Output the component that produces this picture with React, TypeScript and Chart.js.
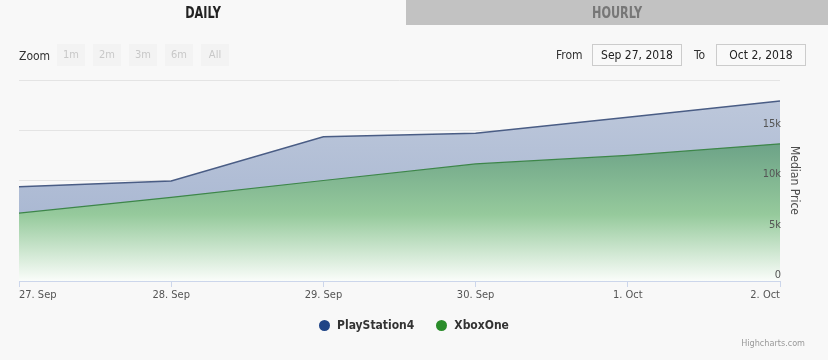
import React, { useEffect, useRef } from "react";
import { Chart, registerables } from "chart.js";

Chart.register(...registerables);

const categories = ["27. Sep", "28. Sep", "29. Sep", "30. Sep", "1. Oct", "2. Oct"];
const ps4Values = [9380, 9950, 14350, 14700, 16300, 17900];
const xboxValues = [6750, 8330, 10000, 11650, 12500, 13650];
const yTickValues = [0, 5000, 10000, 15000, 20000];
const yTickLabels = ["0", "5k", "10k", "15k", ""];
const seriesNames = ["PlayStation4", "XboxOne"];
const zoomButtons = ["1m", "2m", "3m", "6m", "All"];
const tabs = ["DAILY", "HOURLY"];
const fromDate = "Sep 27, 2018";
const toDate = "Oct 2, 2018";

const FONT = '"DejaVu Sans Condensed", "DejaVu Sans", sans-serif';
const NARROW = '"Liberation Sans Narrow", "DejaVu Sans Condensed", sans-serif';

export default function App() {
  const ref = useRef<HTMLCanvasElement | null>(null);

  useEffect(() => {
    const canvas = ref.current;
    if (!canvas) return;
    const ps4Fill = (ctx: any) => {
      const { chart } = ctx;
      const area = chart.chartArea;
      if (!area) return "rgba(170,185,210,1)";
      const g = chart.ctx.createLinearGradient(0, area.top, 0, area.bottom);
      g.addColorStop(0, "rgb(192,202,220)");
      g.addColorStop(1, "rgb(160,176,206)");
      return g;
    };
    const xboxFill = (ctx: any) => {
      const { chart } = ctx;
      const area = chart.chartArea;
      if (!area) return "rgba(120,170,135,1)";
      const g = chart.ctx.createLinearGradient(0, area.top, 0, area.bottom);
      g.addColorStop(0, "rgb(88,144,122)");
      g.addColorStop(0.33, "rgb(110,164,136)");
      g.addColorStop(0.67, "rgb(150,202,156)");
      g.addColorStop(1, "rgb(250,253,250)");
      return g;
    };
    const tickLabel = (v: any) => {
      const i = yTickValues.indexOf(Number(v));
      return i >= 0 ? yTickLabels[i] : "";
    };
    const chart = new Chart(canvas, {
      type: "line",
      data: {
        labels: categories,
        datasets: [
          {
            label: seriesNames[0],
            data: ps4Values,
            borderColor: "#4a5d85",
            borderWidth: 1.5,
            backgroundColor: ps4Fill,
            fill: "origin",
            pointRadius: 0,
            tension: 0,
            order: 2,
          },
          {
            label: seriesNames[1],
            data: xboxValues,
            borderColor: "#3d8649",
            borderWidth: 1.2,
            backgroundColor: xboxFill,
            fill: "origin",
            pointRadius: 0,
            tension: 0,
            order: 1,
          },
        ],
      },
      options: {
        responsive: false,
        animation: false,
        devicePixelRatio: 1,
        layout: { padding: { left: 19, right: 27, top: 80, bottom: 51 } },
        plugins: { legend: { display: false }, tooltip: { enabled: false }, title: { display: false } },
        scales: {
          x: {
            type: "category",
            offset: false,
            grid: { drawOnChartArea: false, drawTicks: true, tickLength: 6, color: "#ccd6eb" },
            border: { color: "#ccd6eb", width: 1 },
            ticks: {
              color: "#555",
              font: { size: 11, family: FONT },
              maxRotation: 0,
              autoSkip: false,
              padding: 2,
              align: "inner",
            },
            afterFit: (s: any) => {
              s.height = 28;
              s.paddingLeft = 0;
              s.paddingRight = 0;
            },
          },
          y: {
            position: "right",
            min: 0,
            max: 20000,
            afterBuildTicks: (s: any) => {
              s.ticks = yTickValues.map((v) => ({ value: v }));
            },
            ticks: {
              mirror: true,
              z: 1,
              padding: 1,
              labelOffset: -6,
              color: "#555",
              font: { size: 11, family: FONT },
              callback: tickLabel,
            },
            grid: { color: "#e4e4e4", drawTicks: false },
            border: { display: false },
            title: {
              display: true,
              text: "Median Price",
              color: "#4d4d4d",
              font: { size: 12, family: FONT },
              padding: { top: 0, bottom: 0 },
            },
            afterFit: (s: any) => {
              s.width = 21;
              s.paddingTop = 0;
              s.paddingBottom = 0;
            },
          },
        },
      },
    });
    return () => chart.destroy();
  }, []);

  const abs = (o: React.CSSProperties): React.CSSProperties => ({ position: "absolute", ...o });

  return (
    <div style={abs({ left: 0, top: 0, width: 828, height: 360, background: "#f8f8f8", overflow: "hidden", fontFamily: FONT })}>
      <canvas ref={ref} width={828} height={360} style={abs({ left: 0, top: 0, width: 828, height: 360 })} />
      <div style={abs({ left: 0, top: 0, width: 406, height: 25, lineHeight: "25px", textAlign: "center", fontFamily: NARROW, fontWeight: 700, fontSize: 16, color: "#222", transform: "scaleX(0.78)" })}>{tabs[0]}</div>
      <div style={abs({ left: 406, top: 0, width: 422, height: 25, background: "#c2c2c2" })} />
      <div style={abs({ left: 406, top: 0, width: 422, height: 25, lineHeight: "25px", textAlign: "center", fontFamily: NARROW, fontWeight: 700, fontSize: 16, color: "#777", transform: "scaleX(0.78)" })}>{tabs[1]}</div>
      <div style={abs({ left: 19, top: 46, height: 20, lineHeight: "20px", fontSize: 12, color: "#333" })}>Zoom</div>
      {zoomButtons.map((b, i) => (
        <div key={b} style={abs({ left: 57 + i * 36, top: 44, width: 28, height: 22, lineHeight: "22px", textAlign: "center", fontSize: 11, color: "#c8c8c8", background: "#f3f3f3" })}>{b}</div>
      ))}
      <div style={abs({ left: 556, top: 44, height: 22, lineHeight: "22px", fontSize: 12, color: "#333" })}>From</div>
      <div style={abs({ left: 592, top: 44, width: 88, height: 20, lineHeight: "20px", textAlign: "center", fontSize: 12, color: "#222", border: "1px solid #cccccc", background: "#f9f9f9" })}>{fromDate}</div>
      <div style={abs({ left: 694, top: 44, height: 22, lineHeight: "22px", fontSize: 12, color: "#333" })}>To</div>
      <div style={abs({ left: 716, top: 44, width: 88, height: 20, lineHeight: "20px", textAlign: "center", fontSize: 12, color: "#222", border: "1px solid #cccccc", background: "#f9f9f9" })}>{toDate}</div>
      <div style={abs({ left: 0, top: 316, width: 828, height: 18, display: "flex", justifyContent: "center", alignItems: "center", gap: 22, fontSize: 12, fontWeight: 700, color: "#333" })}>
        {seriesNames.map((n, i) => (
          <div key={n} style={{ display: "flex", alignItems: "center" }}>
            <span style={{ display: "inline-block", width: 11, height: 11, borderRadius: 6, background: i === 0 ? "#1f4486" : "#2a8c2a", marginRight: 7 }} />
            {n}
          </div>
        ))}
      </div>
      <div style={abs({ right: 23, top: 338, fontSize: 9, color: "#999" })}>Highcharts.com</div>
    </div>
  );
}
